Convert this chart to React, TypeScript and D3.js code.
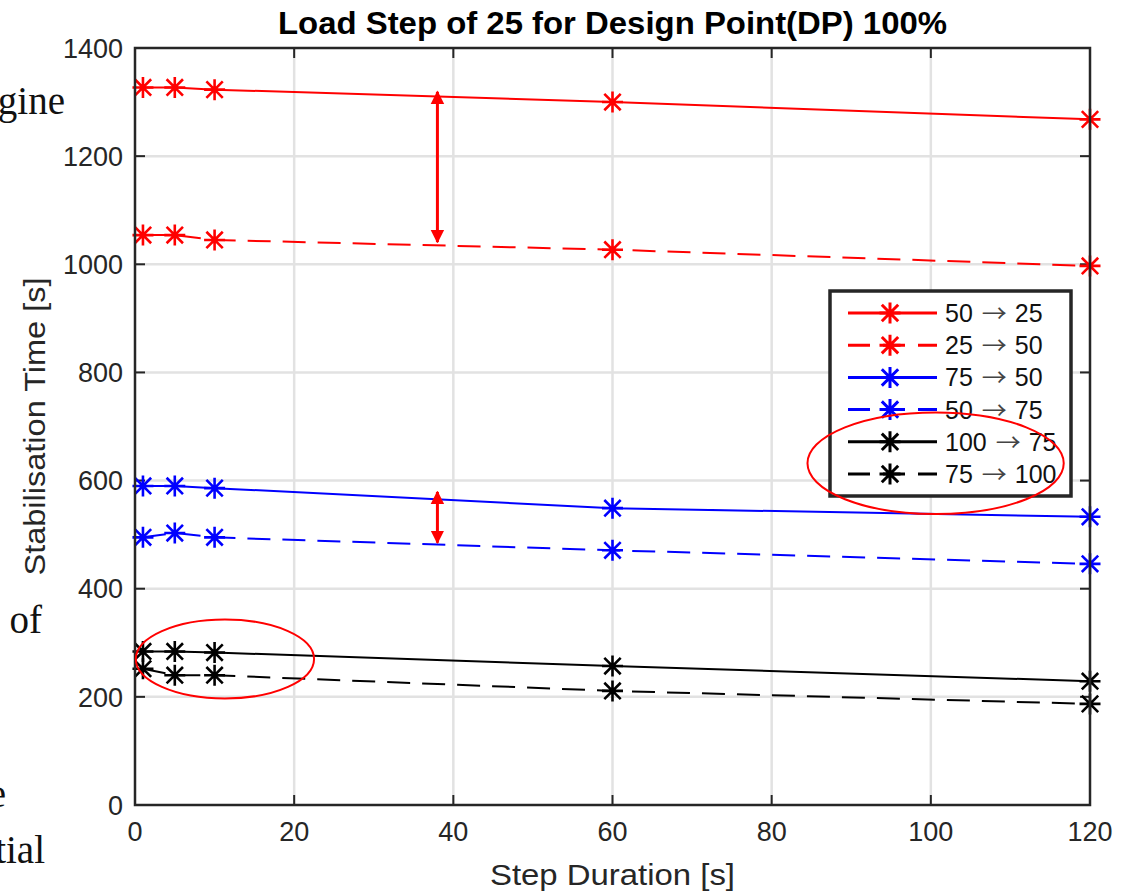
import React from "react";
import * as d3 from "d3";

/* ------------------------------------------------------------------ */
/*  Data                                                              */
/* ------------------------------------------------------------------ */

const stepDurations = [1, 5, 10, 60, 120];

const seriesLabels = [
  ["50", "25"],
  ["25", "50"],
  ["75", "50"],
  ["50", "75"],
  ["100", "75"],
  ["75", "100"],
];
const seriesColors = ["#ff0000", "#ff0000", "#0000ff", "#0000ff", "#000000", "#000000"];
const seriesDashed = [false, true, false, true, false, true];

const down50to25 = [1327, 1327, 1323, 1300, 1268];
const up25to50 = [1054, 1054, 1045, 1027, 997];
const down75to50 = [590, 590, 586, 549, 533];
const up50to75 = [495, 503, 495, 471, 446];
const down100to75 = [284, 284, 282, 257, 229];
const up75to100 = [252, 240, 240, 211, 187];
const seriesValues = [down50to25, up25to50, down75to50, up50to75, down100to75, up75to100];

const xTicks = [0, 20, 40, 60, 80, 100, 120];
const yTicks = [0, 200, 400, 600, 800, 1000, 1200, 1400];

// red annotations, in data units
const arrows = [
  { x: 38, y0: 1319, y1: 1041 },
  { x: 38, y0: 579, y1: 485 },
];
const ellipses = [
  { cx: 100.6, cy: 632, rx: 16.1, ry: 94 },
  { cx: 11.3, cy: 270, rx: 11.2, ry: 73 },
];

/* ------------------------------------------------------------------ */
/*  Layout                                                            */
/* ------------------------------------------------------------------ */

const W = 1125;
const H = 892;
const margin = { left: 135, right: 35, top: 48, bottom: 87 };
const innerW = W - margin.left - margin.right;
const innerH = H - margin.top - margin.bottom;
const axisColor = "#262626";
const sans = "'Liberation Sans', Arial, sans-serif";
const serif = "'Liberation Serif', 'Times New Roman', serif";

function asterisk(s: number) {
  const d = s * 0.78;
  return `M0,${-s}V${s}M${-s},0H${s}M${-d},${-d}L${d},${d}M${-d},${d}L${d},${-d}`;
}

export default function App() {
  const x = d3.scaleLinear().domain([0, 120]).range([0, innerW]);
  const y = d3.scaleLinear().domain([0, 1400]).range([innerH, 0]);

  const line = d3
    .line<number>()
    .x((_, i) => x(stepDurations[i]))
    .y((v) => y(v));

  const legend = { x: 695, y: 243, w: 241, h: 205, row: 32.2 };
  const legendFont = 25;
  const digitW = legendFont * 0.556;

  return (
    <div style={{ position: "absolute", left: 0, top: 0, width: W, height: H, background: "#fff" }}>
      <svg width={W} height={H} style={{ display: "block" }}>
        {/* cropped page text on the left */}
        <g fontFamily={serif} fontSize={39} fill="#111">
          <text x={65} y={114} textAnchor="end">gine</text>
          <text x={42} y={633} textAnchor="end">of</text>
          <text x={6} y={807} textAnchor="end">e</text>
          <text x={45} y={863} textAnchor="end">tial</text>
        </g>

        {/* title */}
        <text
          x={margin.left + innerW / 2}
          y={34}
          textAnchor="middle"
          fontFamily={sans}
          fontWeight="bold"
          fontSize={31}
          textLength={669}
          lengthAdjust="spacingAndGlyphs"
          fill="#000"
        >
          Load Step of 25 for Design Point(DP) 100%
        </text>

        <g transform={`translate(${margin.left},${margin.top})`}>
          <rect x={0} y={0} width={innerW} height={innerH} fill="#fff" />

          {/* grid */}
          {xTicks.slice(1, -1).map((t) => (
            <line key={`xg${t}`} x1={x(t)} x2={x(t)} y1={0} y2={innerH} stroke="#e2e2e2" strokeWidth={2.5} />
          ))}
          {yTicks.slice(1, -1).map((t) => (
            <line key={`yg${t}`} x1={0} x2={innerW} y1={y(t)} y2={y(t)} stroke="#e2e2e2" strokeWidth={2.5} />
          ))}

          {/* ticks */}
          {xTicks.map((t) => (
            <g key={`xt${t}`} stroke={axisColor} strokeWidth={2}>
              <line x1={x(t)} x2={x(t)} y1={innerH} y2={innerH - 10} />
              <line x1={x(t)} x2={x(t)} y1={0} y2={10} />
            </g>
          ))}
          {yTicks.map((t) => (
            <g key={`yt${t}`} stroke={axisColor} strokeWidth={2}>
              <line x1={0} x2={10} y1={y(t)} y2={y(t)} />
              <line x1={innerW} x2={innerW - 10} y1={y(t)} y2={y(t)} />
            </g>
          ))}

          {/* tick labels */}
          {xTicks.map((t) => (
            <text key={`xl${t}`} x={x(t)} y={innerH + 36} textAnchor="middle" fontFamily={sans} fontSize={27} fill={axisColor}>
              {t}
            </text>
          ))}
          {yTicks.map((t) => (
            <text key={`yl${t}`} x={-12} y={y(t)} dy="0.36em" textAnchor="end" fontFamily={sans} fontSize={27} fill={axisColor}>
              {t}
            </text>
          ))}

          {/* axis titles */}
          <text
            x={innerW / 2}
            y={innerH + 80}
            textAnchor="middle"
            fontFamily={sans}
            fontSize={30}
            textLength={245}
            lengthAdjust="spacingAndGlyphs"
            fill={axisColor}
          >
            Step Duration [s]
          </text>
          <text
            transform={`translate(${-90},${innerH / 2}) rotate(-90)`}
            textAnchor="middle"
            fontFamily={sans}
            fontSize={30}
            textLength={298}
            lengthAdjust="spacingAndGlyphs"
            fill={axisColor}
          >
            Stabilisation Time [s]
          </text>

          {/* series */}
          {seriesValues.map((vals, si) => (
            <g key={`s${si}`}>
              <path
                d={line(vals) ?? ""}
                fill="none"
                stroke={seriesColors[si]}
                strokeWidth={2}
                strokeDasharray={seriesDashed[si] ? "23 12" : undefined}
              />
              {vals.map((v, i) => (
                <path
                  key={i}
                  d={asterisk(10.5)}
                  transform={`translate(${x(stepDurations[i])},${y(v)})`}
                  stroke={seriesColors[si]}
                  strokeWidth={2.6}
                  fill="none"
                />
              ))}
            </g>
          ))}

          {/* axes box */}
          <rect x={0} y={0} width={innerW} height={innerH} fill="none" stroke={axisColor} strokeWidth={2.5} />

          {/* legend */}
          <g transform={`translate(${legend.x},${legend.y})`}>
            <rect x={0} y={0} width={legend.w} height={legend.h} fill="#fff" stroke={axisColor} strokeWidth={3.5} />
            {seriesLabels.map(([from, to], si) => {
              const ry = 22 + si * legend.row;
              const arrowX = 115 + from.length * digitW + 9;
              const toX = arrowX + 25 + 8;
              return (
                <g key={`lg${si}`}>
                  <line
                    x1={18}
                    x2={107}
                    y1={ry}
                    y2={ry}
                    stroke={seriesColors[si]}
                    strokeWidth={3}
                    strokeDasharray={seriesDashed[si] ? "22 13" : undefined}
                  />
                  <path
                    d={asterisk(10.5)}
                    transform={`translate(60,${ry})`}
                    stroke={seriesColors[si]}
                    strokeWidth={3}
                    fill="none"
                  />
                  <text x={115} y={ry} dy="0.36em" fontFamily={sans} fontSize={legendFont} fill="#111">
                    {from}
                  </text>
                  <text
                    x={arrowX}
                    y={ry + 9}
                    fontFamily="'Noto Sans CJK JP', 'DejaVu Sans', sans-serif"
                    fontSize={24}
                    textLength={25}
                    lengthAdjust="spacingAndGlyphs"
                    fill="#444"
                  >
                    →
                  </text>
                  <text x={toX} y={ry} dy="0.36em" fontFamily={sans} fontSize={legendFont} fill="#111">
                    {to}
                  </text>
                </g>
              );
            })}
          </g>

          {/* red annotations */}
          <defs>
            <marker id="ah" viewBox="0 0 10 10" refX={9} refY={5} markerWidth={4.5} markerHeight={5} orient="auto-start-reverse" markerUnits="strokeWidth">
              <path d="M0,0L10,5L0,10Z" fill="#ff0000" />
            </marker>
          </defs>
          {arrows.map((a, i) => (
            <line
              key={`ar${i}`}
              x1={x(a.x)}
              x2={x(a.x)}
              y1={y(a.y0)}
              y2={y(a.y1)}
              stroke="#ff0000"
              strokeWidth={3}
              markerStart="url(#ah)"
              markerEnd="url(#ah)"
            />
          ))}
          {ellipses.map((e, i) => (
            <ellipse
              key={`el${i}`}
              cx={x(e.cx)}
              cy={y(e.cy)}
              rx={x(e.rx) - x(0)}
              ry={y(0) - y(e.ry)}
              fill="none"
              stroke="#ff0000"
              strokeWidth={2}
            />
          ))}
        </g>
      </svg>
    </div>
  );
}
